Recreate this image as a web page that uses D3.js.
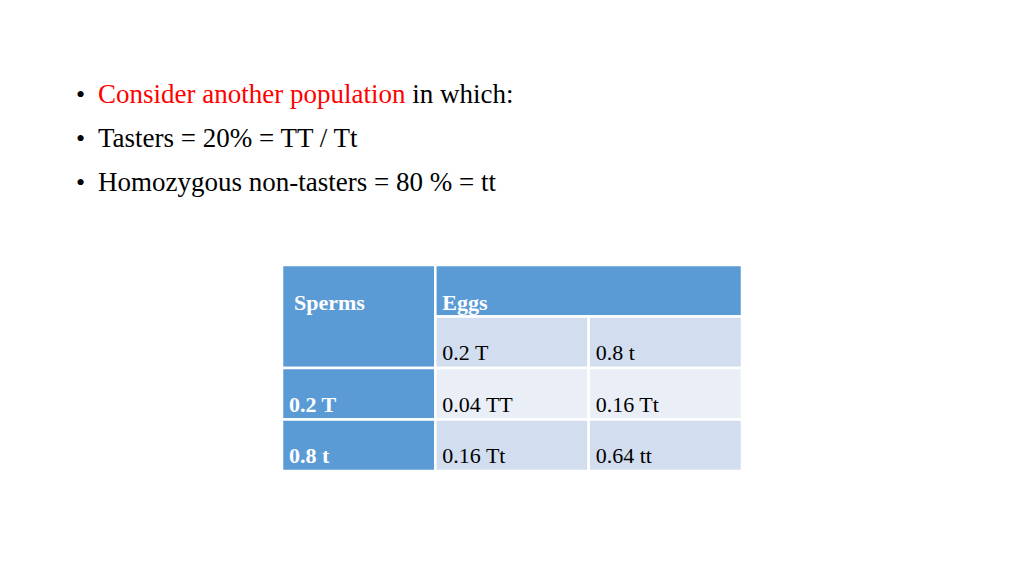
<!DOCTYPE html>
<html><head><meta charset="utf-8">
<script src="https://cdn.jsdelivr.net/npm/d3@7"></script>
<style>body{margin:0;background:#fff}svg{display:block}</style>
</head><body>
<script>
const bullets = [
  [{t: "Consider another population", c: "#ff0000"}, {t: " in which:", c: "#000"}],
  [{t: "Tasters = 20% = TT / Tt", c: "#000"}],
  [{t: "Homozygous non-tasters = 80 % = tt", c: "#000"}]
];
const eggs = ["0.2 T", "0.8 t"];
const sperms = ["0.2 T", "0.8 t"];
const cells = [["0.04 TT", "0.16 Tt"], ["0.16 Tt", "0.64 tt"]];

const W = 1024, H = 576;
const svg = d3.select("body").append("svg").attr("width", W).attr("height", H)
  .style("font-family", "'Liberation Serif', serif");

const by = d3.scaleBand().domain(d3.range(bullets.length)).range([72, 204]);
bullets.forEach((line, i) => {
  const y = by(i) + by.bandwidth() / 2 + 9;
  svg.append("text").attr("x", 76).attr("y", y).attr("font-size", 26).text("•");
  const t = svg.append("text").attr("x", 98).attr("y", y).attr("font-size", 27);
  line.forEach(s => t.append("tspan").attr("fill", s.c).text(s.t));
});

const x = d3.scaleBand().domain([0, 1, 2]).range([282, 742]);
const y = d3.scaleBand().domain([0, 1, 2, 3]).range([265, 471]);
const blue = "#5b9bd5";
const g = svg.append("g");
const rect = (c0, r0, cs, rs, fill) => g.append("rect")
  .attr("x", x(c0)).attr("y", y(r0)).attr("width", x.bandwidth() * cs).attr("height", y.bandwidth() * rs)
  .attr("fill", fill).attr("stroke", "#fff").attr("stroke-width", 2.5);
const label = (c, r, text, bold, color, dy = 0) => g.append("text")
  .attr("x", x(c) + 7).attr("y", y(r) + y.bandwidth() - 8 + dy)
  .attr("font-size", 22).attr("font-weight", bold ? "bold" : "normal")
  .attr("fill", color).text(text);

rect(0, 0, 1, 2, blue);
rect(1, 0, 2, 1, blue);
eggs.forEach((e, i) => { rect(i + 1, 1, 1, 1, "#d2deef"); label(i + 1, 1, e, false, "#000"); });
sperms.forEach((s, r) => {
  rect(0, r + 2, 1, 1, blue);
  label(0, r + 2, s, true, "#fff");
  cells[r].forEach((v, c) => { rect(c + 1, r + 2, 1, 1, r === 0 ? "#eaeff7" : "#d2deef"); label(c + 1, r + 2, v, false, "#000"); });
});
g.append("text").attr("x", x(0) + 12).attr("y", y(0) + 45).attr("font-size", 22).attr("font-weight", "bold").attr("fill", "#fff").text("Sperms");
g.append("text").attr("x", x(1) + 7).attr("y", y(0) + 45).attr("font-size", 22).attr("font-weight", "bold").attr("fill", "#fff").text("Eggs");
</script>
</body></html>
